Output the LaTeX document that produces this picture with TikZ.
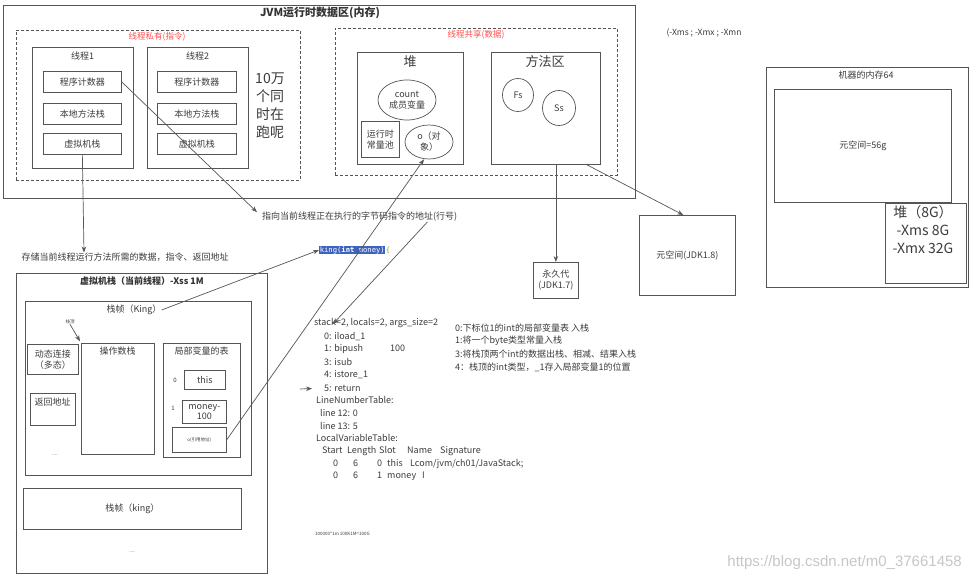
\documentclass[tikz,border=0pt]{standalone}
\usepackage{fontspec}
\setmainfont{Noto Sans CJK SC}
\newfontfamily\monof{DejaVu Sans Mono}
\newfontfamily\wmf{Liberation Sans}
\usetikzlibrary{arrows.meta,shapes.geometric}
\definecolor{lc}{RGB}{85,85,85}
\definecolor{tc}{RGB}{60,60,60}
\definecolor{redl}{RGB}{255,80,80}
\definecolor{hl}{RGB}{60,100,190}
\definecolor{brace}{RGB}{170,150,40}
\newcommand\fsz[2]{\fontsize{#1}{#2}\selectfont}
\begin{document}
\begin{tikzpicture}[x=1pt,y=-1pt,
 box/.style={draw=lc, line width=0.7pt, inner sep=0pt, anchor=north west, text=tc, font=\fsz{9}{11}, align=center},
 dbox/.style={draw=lc, line width=0.8pt, dash pattern=on 3pt off 2pt, anchor=north west, inner sep=0pt},
 txt/.style={text=tc, inner sep=0pt, font=\fsz{9}{11}},
 code/.style={text=tc, inner sep=0pt, anchor=west, font=\fsz{9}{11}},
 ell/.style={draw=lc, line width=0.7pt, ellipse, inner sep=0pt, text=tc, font=\fsz{9}{11}, align=center},
 arr/.style={draw=lc, line width=0.7pt, -{Stealth[length=6pt,width=4.5pt]}},
 ln/.style={draw=lc, line width=0.7pt}]
\useasboundingbox (0,0) rectangle (972,580);
\fill[white] (0,0) rectangle (972,580);

% JVM runtime data area
\node[box, minimum width=632pt, minimum height=193pt] (jvm) at (3,5) {};
\node[txt, font=\fsz{11}{13}\bfseries, text=black!80] (jvmt) at (320,13) {JVM运行时数据区(内存)};

% thread private
\node[dbox, minimum width=284pt, minimum height=150pt] (priv) at (16,30) {};
\node[txt, text=redl, font=\fsz{8.5}{10}] (privt) at (157,37) {线程私有(指令)};
\node[box, minimum width=101pt, minimum height=121pt] (t1) at (32,47) {};
\node[txt] (t1t) at (82.5,56) {线程1};
\node[box, minimum width=78pt, minimum height=21pt] (pc1) at (43,71) {程序计数器};
\node[box, minimum width=78pt, minimum height=21pt] (nms1) at (43,103) {本地方法栈};
\node[box, minimum width=78pt, minimum height=21pt] (vms1) at (43,133) {虚拟机栈};
\node[box, minimum width=101pt, minimum height=121pt] (t2) at (147,47) {};
\node[txt] (t2t) at (197.5,56) {线程2};
\node[box, minimum width=79pt, minimum height=21pt] (pc2) at (157,71) {程序计数器};
\node[box, minimum width=79pt, minimum height=21pt] (nms2) at (157,103) {本地方法栈};
\node[box, minimum width=79pt, minimum height=21pt] (vms2) at (157,133) {虚拟机栈};
\node[txt, font=\fsz{14}{18}, align=center] (many) at (270,106) {10万\\个同\\时在\\跑呢};

% thread shared
\node[dbox, minimum width=282pt, minimum height=147pt] (shared) at (335,28) {};
\node[txt, text=redl, font=\fsz{8.5}{10}] (sharedt) at (476,35) {线程共享(数据)};
\node[box, minimum width=106pt, minimum height=112pt] (heap) at (357,52) {};
\node[txt, font=\fsz{13}{15}] (heapt) at (410,62) {堆};
\node[ell, minimum width=58pt, minimum height=40pt] (count) at (407,100) {count\\成员变量};
\node[box, minimum width=38pt, minimum height=36pt] (rcp) at (361,121) {运行时\\常量池};
\node[ell, minimum width=48pt, minimum height=34pt] (oobj) at (429,142) {o（对\\象）};
\node[box, minimum width=109pt, minimum height=112pt] (ma) at (491,52) {};
\node[txt, font=\fsz{13}{15}] (mat) at (545,62) {方法区};
\node[ell, minimum width=31pt, minimum height=33pt] (fs) at (518,95) {Fs};
\node[ell, minimum width=33pt, minimum height=35pt] (ss) at (559,108) {Ss};

% perm / metaspace
\node[box, minimum width=45pt, minimum height=36pt] (perm) at (533,262) {永久代\\(JDK1.7)};
\node[box, minimum width=96pt, minimum height=80pt] (meta) at (639,215) {元空间(JDK1.8)};
\draw[arr] (perm.north |- ma.south) -- (perm.north);
\draw[arr] ([xshift=-14pt]ma.south east) -- ([xshift=-4pt]meta.north);
\node[txt, font=\fsz{8.5}{10}] (xopts) at (704,33) {(-Xms ; -Xmx ; -Xmn};

% machine memory
\node[box, minimum width=202pt, minimum height=220pt] (mach) at (766,67) {};
\node[txt] (macht) at (866,75) {机器的内存64};
\node[box, minimum width=177pt, minimum height=113pt] (meta56) at (774,89) {元空间=56g};
\node[box, minimum width=81pt, minimum height=80pt] (heap8) at (885,203) {};
\node[txt, font=\fsz{14}{18}, align=center, anchor=north] (heap8t) at (923,205) {堆（8G）\\-Xms 8G\\-Xmx 32G};

% pointer / store texts
\node[txt, anchor=west] (ptr) at (262,217) {指向当前线程正在执行的字节码指令的地址(行号)};
\draw[arr, shorten >=7pt] (pc1.east) -- (ptr.west);
\node[txt] (store) at (125,257) {存储当前线程运行方法所需的数据，指令、返回地址};
\draw[arr] (vms1.south) -- ([xshift=-41pt]store.north);

% code highlight
\node[inner sep=0.6pt, fill=hl, text=white, font=\monof\fsz{7.2}{9}, anchor=west] (kingc) at (319,250) {king(\textbf{int} money)};
\node[inner sep=0pt, text=brace, font=\monof\fsz{7.2}{9}, anchor=west] (kbr) at (kingc.east) {\{};

% virtual machine stack
\node[box, minimum width=251pt, minimum height=300pt] (vms) at (16,273) {};
\node[txt, font=\fsz{9}{11}\bfseries, text=black!80] (vmst) at (142,281) {虚拟机栈（当前线程）-Xss 1M};
\node[box, minimum width=226pt, minimum height=174pt] (fr1) at (25,301) {};
\node[txt] (fr1t) at (134,310) {栈帧（King）};
\node[txt, font=\fsz{4.5}{5}] (sttop) at (70,322) {栈顶};
\node[box, minimum width=51pt, minimum height=30pt] (dyn) at (27,344) {动态连接\\（多态）};
\node[box, minimum width=45pt, minimum height=32pt] (retb) at (30,393) {};
\node[txt] (retbt) at (52.5,402) {返回地址};
\node[txt, font=\fsz{5}{6}] (dots1) at (55,455) {....};
\node[box, minimum width=73pt, minimum height=111pt] (ops) at (81,343) {};
\node[txt] (opst) at (117.5,351) {操作数栈};
\draw[arr, shorten >=2pt] (sttop.south) -- (ops.north west);
\node[box, minimum width=77pt, minimum height=114pt] (lvt) at (163,343) {};
\node[txt] (lvtt) at (201.5,351) {局部变量的表};
\node[box, minimum width=41pt, minimum height=19pt] (thisb) at (184,370) {this};
\node[txt, font=\fsz{6}{7}] (idx0) at (175,380) {0};
\node[box, minimum width=44pt, minimum height=23pt, font=\fsz{9}{10}] (money) at (182,400) {money-\\100};
\node[txt, font=\fsz{6}{7}] (idx1) at (173,408) {1};
\node[box, minimum width=54pt, minimum height=25pt, font=\fsz{4.5}{5}] (oref) at (172,427) {o(引用地址)};
\node[box, minimum width=218pt, minimum height=41pt] (fr2) at (23,488) {栈帧（king）};
\node[txt, font=\fsz{5}{6}] (dots2) at (132,552) {....};

\draw[arr] (oref.east) -- ([xshift=-5pt]oobj.south);
\draw[arr] (fr1t.east) -- (kingc.west);

% bytecode
\node[code] (b0) at (314,323) {stack=2, locals=2, args\_size=2};
\node[code] (b1) at (324,337) {0: iload\_1};
\node[code] (b2) at (324,349) {\makebox[66pt][l]{1: bipush}100};
\node[code] (b3) at (324,362) {3: isub};
\node[code] (b4) at (324,375) {4: istore\_1};
\node[code] (b5) at (324,388) {5: return};
\node[code] (b6) at (316,400) {LineNumberTable:};
\node[code] (b7) at (320,413) {line 12: 0};
\node[code] (b8) at (320,426) {line 13: 5};
\node[code] (b9) at (316,438) {LocalVariableTable:};
\node[code] (b10) at (322,451) {\makebox[25pt][l]{Start}\makebox[32pt][l]{Length}\makebox[28pt][l]{Slot}\makebox[33pt][l]{Name}Signature};
\node[code] (b11) at (333,464) {\makebox[20pt][l]{0}\makebox[24pt][l]{6}\makebox[10pt][l]{0}\makebox[23pt][l]{this}Lcom/jvm/ch01/JavaStack;};
\node[code] (b12) at (333,476) {\makebox[20pt][l]{0}\makebox[24pt][l]{6}\makebox[10pt][l]{1}\makebox[35pt][l]{money}I};
\coordinate (retfrom) at (300,389);
\draw[arr, shorten >=12pt] (retfrom) -- (b5.west);
\draw[arr] ([xshift=-30pt]ptr.south east) -- ([xshift=19pt,yshift=-1pt]b0.west);

% notes
\node[code] (n0) at (455,328) {0:下标位1的int的局部变量表 入栈};
\node[code] (n1) at (455,341) {1:将一个byte类型常量入栈};
\node[code] (n2) at (455,354) {3:将栈顶两个int的数据出栈、相减、结果入栈};
\node[code] (n3) at (455,367) {4：栈顶的int类型，\_1存入局部变量1的位置};

\node[code, font=\fsz{4.5}{5}] (calc) at (315,534) {100000*1m 100K1M=100G};
\node[inner sep=0pt, anchor=east, text=black!22, font=\wmf\fsz{15}{17}] (wm) at (962,563) {https://blog.csdn.net/m0\_37661458};
\end{tikzpicture}
\end{document}
